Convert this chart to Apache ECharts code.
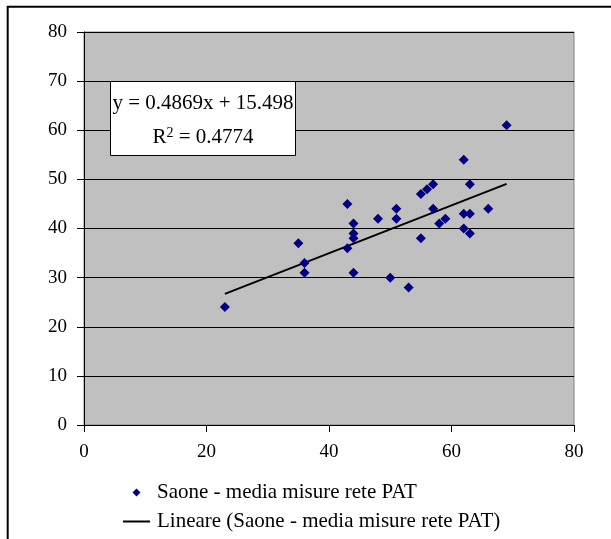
<!DOCTYPE html>
<html>
<head>
<meta charset="utf-8">
<style>
  html, body { margin: 0; padding: 0; background: #ffffff; }
  #chart { width: 611px; height: 539px; }
</style>
<script src="https://cdn.jsdelivr.net/npm/echarts@6/dist/echarts.min.js"></script>
</head>
<body>
<div id="chart"></div>
<script>
// Saone vs. media misure rete PAT
const saoneX = [23, 35, 36, 36, 43, 43, 44, 44, 44, 44, 48, 50, 51, 51, 53,
                55, 55, 56, 57, 57, 58, 59, 62, 62, 62, 63, 63, 63, 66, 69];
const pairedY = [24, 37, 33, 31, 45, 36, 41, 39, 38, 31, 42, 30, 44, 42, 28,
                 38, 47, 48, 49, 44, 41, 42, 54, 43, 40, 43, 39, 49, 44, 61];

// Linear trend coefficients as printed in the equation box
const trendSlope = 0.4869;
const trendIntercept = 15.498;
const trendR2 = '0.4774';

const xTicks = [0, 20, 40, 60, 80];
const yTicks = [0, 10, 20, 30, 40, 50, 60, 70, 80];

const scatterName = 'Saone - media misure rete PAT';
const trendName = 'Lineare (Saone - media misure rete PAT)';

const points = saoneX.map((x, i) => [x, pairedY[i]]);
const xMin = Math.min(...saoneX);
const xMax = Math.max(...saoneX);
const trendPoints = [xMin, xMax].map(x => [x, trendSlope * x + trendIntercept]);

const serif = '"Liberation Serif", "Times New Roman", serif';
const navy = '#000080';

const chart = echarts.init(document.getElementById('chart'), null, { renderer: 'canvas' });
chart.setOption({
  animation: false,
  backgroundColor: '#ffffff',
  grid: {
    left: 84, top: 32, right: 37, bottom: 114,
    show: true,
    backgroundColor: '#c0c0c0',
    borderColor: '#808080',
    borderWidth: 1
  },
  xAxis: {
    type: 'value',
    min: xTicks[0], max: xTicks[xTicks.length - 1], interval: 20,
    axisLine: { show: true, onZero: false, lineStyle: { color: '#000', width: 1 } },
    axisTick: { show: true, inside: false, length: 7, lineStyle: { color: '#000' } },
    splitLine: { show: false },
    axisLabel: { margin: 18, color: '#000', fontFamily: serif, fontSize: 19,
                 formatter: v => xTicks.includes(v) ? String(v) : '' }
  },
  yAxis: {
    type: 'value',
    min: yTicks[0], max: yTicks[yTicks.length - 1], interval: 10,
    axisLine: { show: true, onZero: false, lineStyle: { color: '#000', width: 1 } },
    axisTick: { show: true, inside: false, length: 7, lineStyle: { color: '#000' } },
    splitLine: { show: true, lineStyle: { color: '#000', width: 1 } },
    axisLabel: { margin: 17, color: '#000', fontFamily: serif, fontSize: 19,
                 formatter: v => yTicks.includes(v) ? String(v) : '' }
  },
  legend: {
    orient: 'vertical',
    left: 123, top: 482,
    padding: 0,
    itemWidth: 27, itemHeight: 8, itemGap: 8,
    symbolKeepAspect: true,
    textStyle: { color: '#000', fontFamily: serif, fontSize: 21, lineHeight: 21, padding: [0, 0, 0, 2] },
    data: [
      { name: scatterName, icon: 'path://M0,-1L1,0L0,1L-1,0Z', itemStyle: { color: navy } },
      { name: trendName, icon: 'path://M0,0L27,0L27,2L0,2Z', itemStyle: { color: '#000' } }
    ]
  },
  series: [
    {
      name: scatterName,
      type: 'scatter',
      symbol: 'diamond',
      symbolSize: 10,
      itemStyle: { color: navy, opacity: 1 },
      data: points,
      z: 3
    },
    {
      name: trendName,
      type: 'line',
      symbol: 'none',
      showSymbol: false,
      lineStyle: { color: '#000', width: 2 },
      itemStyle: { color: '#000' },
      data: trendPoints,
      z: 2
    }
  ],
  graphic: [
    // outer frame lines (top and left)
    { type: 'line', shape: { x1: 7, y1: 6.7, x2: 611, y2: 6.7 }, style: { stroke: '#000', lineWidth: 2 } },
    { type: 'line', shape: { x1: 7.7, y1: 6, x2: 7.7, y2: 539 }, style: { stroke: '#000', lineWidth: 2 } },
    // regression equation box
    {
      type: 'rect', z: 10,
      shape: { x: 110.5, y: 81.5, width: 185, height: 74 },
      style: { fill: '#ffffff', stroke: '#000', lineWidth: 1 }
    },
    {
      type: 'text', z: 11,
      x: 203, y: 103,
      style: {
        text: 'y = ' + trendSlope + 'x + ' + trendIntercept,
        fill: '#000', font: '21px ' + serif,
        align: 'center', verticalAlign: 'middle'
      }
    },
    {
      type: 'text', z: 11,
      x: 203, y: 137,
      style: {
        text: '{b|R}{s|2}{b| = ' + trendR2 + '}',
        align: 'center', verticalAlign: 'middle',
        rich: {
          b: { fill: '#000', font: '21px ' + serif, verticalAlign: 'bottom', lineHeight: 22 },
          s: { fill: '#000', font: '14px ' + serif, verticalAlign: 'top', lineHeight: 22 }
        }
      }
    }
  ]
});
</script>
</body>
</html>
